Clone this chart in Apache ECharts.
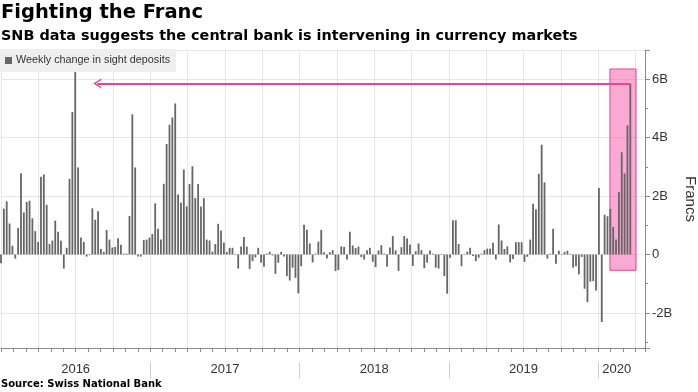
<!DOCTYPE html>
<html><head><meta charset="utf-8">
<script src="https://cdn.jsdelivr.net/npm/echarts/dist/echarts.min.js"></script>
<style>html,body{margin:0;padding:0;background:#fff}#c{width:698px;height:392px}</style>
</head><body><div id="c"></div>
<script>
// ---- data (billions of francs, weekly change in sight deposits) ----
const seriesName = 'Weekly change in sight deposits';
const start2016 = '2016-01-01';
const start2017 = '2017-01-06';
const start2018 = '2018-01-05';
const start2019 = '2019-01-04';
const start2020 = '2020-01-03';
const values2016 = [-0.3, 1.57, 1.82, 1.06, 0.3, -0.14, 0.91, 2.78, 1.44, 1.8, 1.84, 1.24, 0.8, 0.43, 2.66, 2.74, 1.7, 0.36, 0.48, 1.16, 0.78, 0.47, -0.48, 0.23, 2.59, 4.88, 6.27, 2.98, 0.58, 0.43, -0.07, 0.02, 1.58, 1.19, 1.48, 0.19, 0.09, 0.84, 0.51, 0.24, 0.26, 0.56, 0.33, 0.03, 0.03, 1.32, 4.8, 2.98, -0.07, -0.07, 0.5, 0.51, 0.58];
const values2017 = [0.7, 1.75, 0.88, 0.51, 2.42, 3.78, 4.44, 4.69, 5.17, 2.05, 1.77, 2.91, 1.65, 2.41, 3.02, 1.93, 2.41, 1.64, 1.93, 0.51, 0.48, 0.1, 0.36, 1.05, 0.82, 0.41, 0.09, 0.23, 0.23, 0.02, -0.48, 0.27, 0.6, 0.27, -0.49, -0.23, -0.1, 0.23, -0.28, -0.42, 0.03, 0.09, -0.03, -0.66, -0.28, 0.09, -0.07, -0.74, -0.89, -0.45, -0.8, -1.33];
const values2018 = [-0.4, 1.02, 0.85, 0.38, -0.27, 0.03, 0.44, 0.84, 0.08, -0.14, 0.08, 0.15, -0.57, -0.53, 0.28, 0.26, -0.17, 0.78, 0.31, 0.22, 0.27, -0.09, -0.17, 0.15, 0.23, -0.25, -0.43, 0.14, 0.32, 0.03, -0.42, 0.24, 0.63, 0.14, -0.56, 0.25, 0.63, 0.55, 0.34, -0.39, 0.11, 0.38, 0.15, -0.47, -0.28, 0.14, 0.03, -0.45, -0.48, 0.02, -0.74, -1.34];
const values2019 = [-0.11, 1.17, 1.17, 0.36, -0.4, 0.02, 0.1, 0.23, -0.05, -0.23, -0.11, 0.03, 0.15, 0.2, 0.2, 0.4, -0.17, 1.03, 0.48, 0.19, 0.28, -0.27, -0.15, 0.42, 0.42, 0.42, -0.25, -0.08, 0.51, 1.74, 1.55, 2.76, 3.76, 2.47, -0.14, 0.03, 0.88, -0.32, 0.13, 0.02, 0.09, 0.13, 0.02, -0.45, -0.4, -0.68, -0.08, -1.17, -1.63, -0.93, -0.91, -1.23];
const values2020 = [2.28, -2.31, 1.36, 1.31, 1.56, 0.94, 0.51, 2.14, 3.5, 2.77, 4.42, 5.85];
const yearLabels = ['2016', '2017', '2018', '2019', '2020'];
const yTickSuffix = 'B';
const axisStart = '2016-01-01';
const axisEnd = '2020-04-25';
const arrowTipDate = '2016-08-24';
const boxStart = '2020-01-30';
const boxEnd = '2020-04-03';
const boxTop = 6.35;
const boxBottom = -0.54;

// ---- helpers ----
function toYear(s) {
  const p = s.split('-').map(Number);
  const t = Date.UTC(p[0], p[1] - 1, p[2]);
  const a = Date.UTC(p[0], 0, 1), b = Date.UTC(p[0] + 1, 0, 1);
  return p[0] + (t - a) / (b - a);
}
function addDays(s, n) {
  const p = s.split('-').map(Number);
  const d = new Date(Date.UTC(p[0], p[1] - 1, p[2]) + n * 86400000);
  return d.toISOString().slice(0, 10);
}
function weekly(start, vals) {
  return vals.map((v, i) => [toYear(addDays(start, 7 * i)), v]);
}
const barData = [].concat(
  weekly(start2016, values2016), weekly(start2017, values2017),
  weekly(start2018, values2018), weekly(start2019, values2019),
  weekly(start2020, values2020));
const last = barData[barData.length - 1];
const xMin = toYear(axisStart), xMax = toYear(axisEnd);
const yearNums = yearLabels.map(Number);
const labelPos = yearNums.map(y => (y + 1 <= xMax ? y + 0.5 : y + 0.125));
const sepPos = yearNums.slice(1);

const FONT = 'Liberation Sans';
const HEAD = 'DejaVu Sans';
const chart = echarts.init(document.getElementById('c'));
chart.setOption({
  animation: false,
  backgroundColor: '#fff',
  title: [
    { text: 'Fighting the Franc', subtext: 'SNB data suggests the central bank is intervening in currency markets',
      left: -1, top: 1, padding: [2, 2, 2, 2], itemGap: 6,
      textStyle: { fontFamily: HEAD, fontWeight: 'bold', fontSize: 19.5, color: '#000' },
      subtextStyle: { fontFamily: HEAD, fontWeight: 'bold', fontSize: 14.4, color: '#000' } },
    { text: 'Source: Swiss National Bank', left: 1, top: 379, padding: 0,
      textStyle: { fontFamily: HEAD, fontWeight: 'bold', fontSize: 10, color: '#000' } }
  ],
  legend: {
    data: [seriesName], left: 0, top: 49, icon: 'rect', itemWidth: 7, itemHeight: 7, itemGap: 4,
    padding: [6, 6, 6, 5], backgroundColor: '#efefef',
    textStyle: { fontFamily: FONT, fontSize: 10.8, color: '#333', padding: [0, 0, 0, -1] }
  },
  grid: { left: 1, right: 53, top: 50, bottom: 44, containLabel: false, outerBoundsMode: 'none' },
  xAxis: [
    { type: 'value', min: xMin, max: xMax, interval: 0.25, position: 'bottom',
      axisLine: { onZero: false, lineStyle: { color: '#8a8a8a' } },
      axisTick: { show: true, length: 4, lineStyle: { color: '#8a8a8a' } },
      minorTick: { show: true, splitNumber: 3, length: 4, lineStyle: { color: '#8a8a8a' } },
      splitLine: { show: true, lineStyle: { color: '#e6e6e6' } },
      axisLabel: { show: false } },
    { type: 'value', min: xMin, max: xMax, position: 'bottom',
      axisLine: { show: false, onZero: false }, axisTick: { show: false }, splitLine: { show: false },
      axisLabel: { customValues: labelPos, formatter: v => String(Math.floor(v + 1e-9)), margin: 15,
        fontFamily: FONT, fontSize: 13, color: '#333' } },
    { type: 'value', min: xMin, max: xMax, position: 'bottom', offset: 14,
      axisLine: { show: false, onZero: false }, splitLine: { show: false }, axisLabel: { show: false },
      axisTick: { show: true, customValues: sepPos, length: 17, lineStyle: { color: '#cfcfcf' } } }
  ],
  yAxis: {
    type: 'value', position: 'right', min: -3.2, max: 7, splitNumber: 5,
    axisLine: { show: true, onZero: false, lineStyle: { color: '#8a8a8a' } },
    axisTick: { show: true, length: 5, lineStyle: { color: '#8a8a8a' } },
    minorTick: { show: true, splitNumber: 2, length: 3, lineStyle: { color: '#8a8a8a' } },
    splitLine: { show: true, lineStyle: { color: '#e6e6e6' } },
    axisLabel: { showMinLabel: false, showMaxLabel: false, margin: 7,
      formatter: v => (v === 0 ? '0' : v + yTickSuffix), fontFamily: FONT, fontSize: 13, color: '#333' },
    name: 'Francs', nameLocation: 'middle', nameRotate: -90, nameGap: 37,
    nameTextStyle: { fontFamily: FONT, fontSize: 15, color: '#333' }
  },
  series: [
    { name: seriesName, type: 'bar', xAxisIndex: 0, data: barData, barWidth: 1.8,
      itemStyle: { color: '#666666' }, silent: true, z: 2 },
    { name: 'annotation', type: 'line', xAxisIndex: 0, data: [last], symbol: 'none', silent: true, z: 5,
      lineStyle: { opacity: 0 },
      markArea: { silent: true,
        itemStyle: { color: 'rgba(246, 84, 168, 0.5)', borderColor: '#e2479b', borderWidth: 1 },
        data: [[{ coord: [toYear(boxStart), boxTop] }, { coord: [toYear(boxEnd), boxBottom] }]] },
      markLine: { silent: true, symbol: ['none', 'none'], label: { show: false },
        lineStyle: { color: '#e2479b', width: 1.8, type: 'solid' },
        data: [[
          { coord: [last[0], last[1]], symbol: 'none' },
          { coord: [toYear(arrowTipDate), last[1]], symbol: 'path://M5,0 L10,8 L8.4,8 L5,2.6 L1.6,8 L0,8 Z', symbolSize: [10, 8] }
        ]] } }
  ]
});
</script></body></html>
